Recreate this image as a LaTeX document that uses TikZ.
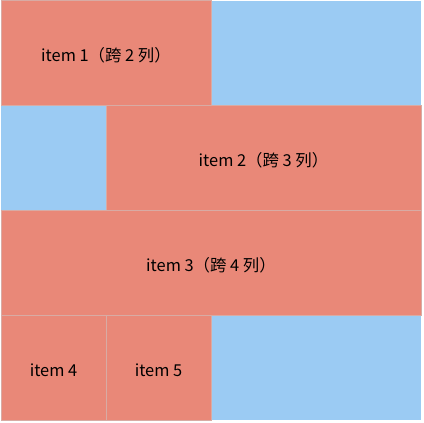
\documentclass[tikz,border=0pt]{standalone}
\usepackage{fontspec}
\setmainfont{Noto Sans CJK SC}
\usepackage{xcolor}
\definecolor{gridblue}{HTML}{9BCBF3}
\definecolor{itemred}{HTML}{E98878}
\definecolor{itemline}{HTML}{D8ABA4}
\usepackage{tikz}

\begin{document}
\begin{tikzpicture}[x=0.75pt, y=-0.75pt,
    cell/.style={rectangle, fill=itemred, draw=itemline, line width=0.75pt, inner sep=0pt,
                 minimum height=78.75pt, text height=12pt, text depth=0pt,
                 font=\fontsize{12.3}{14}\selectfont}]
        \useasboundingbox (0,0) rectangle (424,423);
        \fill[gridblue] (1,1) rectangle (421,420);

        \node[cell, minimum width=157.5pt] (it1) at (106,53.5) {item 1（跨 2 列）};
        \node[cell, minimum width=236.25pt] (it2) at (263.5,158.5) {item 2（跨 3 列）};
        \node[cell, minimum width=315pt] (it3) at (211,263.5) {item 3（跨 4 列）};
        \node[cell, minimum width=78.75pt] (it4) at (53.5,368) {item 4};
        \node[cell, minimum width=78.75pt] (it5) at (158.5,368) {item 5};
    \end{tikzpicture}
\end{document}
